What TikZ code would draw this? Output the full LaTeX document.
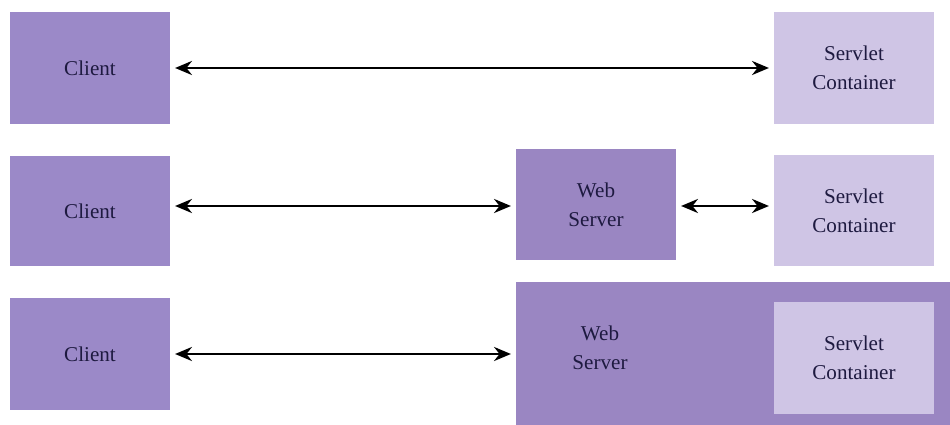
\documentclass[tikz,border=0pt]{standalone}
\usepackage{fontspec}
\setmainfont{Liberation Serif}
\usepackage{xcolor}
\usetikzlibrary{positioning, calc, arrows.meta}

\definecolor{clientfill}{HTML}{9B89C8}
\definecolor{webfill}{HTML}{9A86C2}
\definecolor{contfill}{HTML}{CFC5E5}
\definecolor{labeltext}{HTML}{1E1A40}

\begin{document}
\begin{tikzpicture}[
    box/.style={minimum width=4cm, minimum height=2.8cm, align=center, inner sep=0pt,
        text=labeltext, font=\fontsize{15}{20.5}\selectfont},
    clientbox/.style={box, fill=clientfill},
    webbox/.style={box, fill=webfill},
    contbox/.style={box, fill=contfill},
    link/.style={{Stealth[length=12pt,width=10pt]}-{Stealth[length=12pt,width=10pt]}, line width=1.8pt, black,
        shorten <=0.12cm, shorten >=0.12cm}
]
\useasboundingbox (0,0) rectangle (23.75,10.625);

% Row 1: client talks to the container directly
\node[clientbox] (c1) at (2.25, 8.925) {Client};
\node[contbox] (s1) at (21.35, 8.925) {Servlet\\Container};

% Row 2: web server in between
\node[clientbox, minimum height=2.75cm] (c2) at (2.25, 5.35) {Client};
\node[webbox, minimum height=2.775cm] (w2) at (14.9, 5.5125) {Web\\Server};
\node[contbox, minimum height=2.775cm] (s2) at (21.35, 5.3625) {Servlet\\Container};

% Row 3: container inside the web server
\node[clientbox] (c3) at (2.25, 1.775) {Client};
\node[webbox, minimum width=10.85cm, minimum height=3.575cm] (w3) at (18.325, 1.7875) {};
\node[box, minimum width=0pt, minimum height=0pt] (w3lbl) at (15.0, 1.925) {Web\\Server};
\node[contbox] (s3) at (21.35, 1.675) {Servlet\\Container};

% Connectors
\coordinate (a2) at ($(c2.east)+(0,0.125)$);
\coordinate (b2) at ($(w2.east)+(0,-0.0375)$);
\draw[link] (c1.east) -- (s1.west);
\draw[link] (a2) -- (a2 -| w2.west);
\draw[link] (b2) -- (b2 -| s2.west);
\draw[link] (c3.east) -- (c3.east -| w3.west);

\end{tikzpicture}
\end{document}
